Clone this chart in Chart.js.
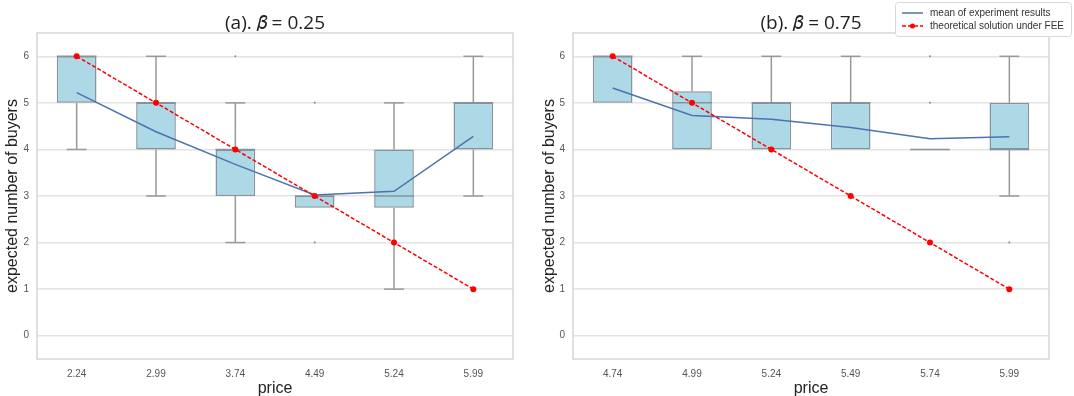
<!DOCTYPE html>
<html>
<head>
<meta charset="utf-8">
<script src="https://cdn.jsdelivr.net/npm/chart.js@4.4.1/dist/chart.umd.min.js"></script>
<style>
  html, body { margin: 0; padding: 0; background: #fff; }
  #wrap { position: relative; width: 1074px; height: 396px; overflow: hidden; }
  .pane { position: absolute; top: 0; width: 537px; height: 396px; }
</style>
</head>
<body>
<div id="wrap">
  <div class="pane" style="left:0"><canvas id="cA" width="537" height="396"></canvas></div>
  <div class="pane" style="left:537px"><canvas id="cB" width="537" height="396"></canvas></div>
</div>
<script>
// ---------- data ----------
const yTicks = [0, 1, 2, 3, 4, 5, 6];

const catsA = ['2.24', '2.99', '3.74', '4.49', '5.24', '5.99'];
const q1A = [5, 4, 3, 2.75, 2.75, 4];
const q3A = [6, 5, 4, 3, 4, 5];
const medA = [6, 5, 4, 3, 3, 5];
const whisLoA = [4, 3, 2, 2.75, 1, 3];
const whisHiA = [6, 6, 5, 3, 5, 6];
const meanA = [5.22, 4.38, 3.68, 3.02, 3.1, 4.28];
const theoryA = [6, 5, 4, 3, 2, 1];
const fliersA = [{x: '3.74', y: 6}, {x: '4.49', y: 5}, {x: '4.49', y: 2}];

const catsB = ['4.74', '4.99', '5.24', '5.49', '5.74', '5.99'];
const q1B = [5, 4, 4, 4, 4, 4];
const q3B = [6, 5.25, 5, 5, 4, 5];
const medB = [6, 5, 5, 5, 4, 4];
const whisLoB = [5, 4, 4, 4, 4, 3];
const whisHiB = [6, 6, 6, 6, 4, 6];
const meanB = [5.32, 4.73, 4.65, 4.47, 4.23, 4.27];
const theoryB = [6, 5, 4, 3, 2, 1];
const fliersB = [{x: '5.74', y: 6}, {x: '5.74', y: 5}, {x: '5.99', y: 2}];

const titleA = '(a). \u{1D6FD} = 0.25';
const titleB = '(b). \u{1D6FD} = 0.75';
const legendLabels = ['mean of experiment results', 'theoretical solution under FEE'];

// ---------- style ----------
const BOX_FILL = '#add8e6';
const BOX_EDGE = '#85939d';
const WHISK = '#999999';
const MEAN_C = '#4c72b0';
const THEO_C = '#ff0000';
const GRID_C = '#e3e3e3';
const FRAME_C = '#d6d6d6';
const AXFONT = "'Liberation Sans', Arial, sans-serif";

const boxExtras = {
  id: 'boxExtras',
  afterDatasetDraw(chart, args, opts) {
    if (args.index !== 0) return;
    const ctx = chart.ctx, x = chart.scales.x, y = chart.scales.y;
    const meta = chart.getDatasetMeta(0);
    ctx.save();
    ctx.lineWidth = 1.5;
    opts.lo.forEach((lo, i) => {
      const bar = meta.data[i];
      const cx = x.getPixelForValue(i);
      const half = bar.width / 2;
      ctx.strokeStyle = WHISK;
      if (lo < opts.q1[i]) {
        ctx.beginPath();
        ctx.moveTo(cx, y.getPixelForValue(opts.q1[i]));
        ctx.lineTo(cx, y.getPixelForValue(lo));
        ctx.stroke();
        ctx.beginPath();
        ctx.moveTo(cx - half / 2, y.getPixelForValue(lo));
        ctx.lineTo(cx + half / 2, y.getPixelForValue(lo));
        ctx.stroke();
      }
      const hi = opts.hi[i];
      if (hi > opts.q3[i]) {
        ctx.beginPath();
        ctx.moveTo(cx, y.getPixelForValue(opts.q3[i]));
        ctx.lineTo(cx, y.getPixelForValue(hi));
        ctx.stroke();
        ctx.beginPath();
        ctx.moveTo(cx - half / 2, y.getPixelForValue(hi));
        ctx.lineTo(cx + half / 2, y.getPixelForValue(hi));
        ctx.stroke();
      }
      ctx.strokeStyle = BOX_EDGE;
      ctx.beginPath();
      ctx.moveTo(cx - half, y.getPixelForValue(opts.med[i]));
      ctx.lineTo(cx + half, y.getPixelForValue(opts.med[i]));
      ctx.stroke();
    });
    ctx.restore();
  },
  afterDraw(chart) {
    const ctx = chart.ctx, a = chart.chartArea;
    ctx.save();
    ctx.strokeStyle = FRAME_C;
    ctx.lineWidth = 1.5;
    ctx.strokeRect(a.left, a.top, a.right - a.left, a.bottom - a.top);
    ctx.restore();
  }
};

const customLegend = {
  id: 'customLegend',
  afterDraw(chart, args, opts) {
    if (!opts.show) return;
    const ctx = chart.ctx;
    const bx = 358, by = 2, bw = 176, bh = 34;
    ctx.save();
    ctx.fillStyle = 'rgba(255,255,255,0.9)';
    ctx.strokeStyle = '#d8d8d8';
    ctx.lineWidth = 1;
    ctx.beginPath();
    ctx.roundRect(bx + 0.5, by + 0.5, bw, bh, 3);
    ctx.fill();
    ctx.stroke();
    ctx.strokeStyle = MEAN_C;
    ctx.lineWidth = 1.5;
    ctx.beginPath();
    ctx.moveTo(365, 13); ctx.lineTo(386, 13);
    ctx.stroke();
    ctx.strokeStyle = THEO_C;
    ctx.setLineDash([4, 2]);
    ctx.beginPath();
    ctx.moveTo(365, 26); ctx.lineTo(386, 26);
    ctx.stroke();
    ctx.setLineDash([]);
    ctx.fillStyle = THEO_C;
    ctx.beginPath();
    ctx.arc(375.5, 26, 2.5, 0, Math.PI * 2);
    ctx.fill();
    ctx.fillStyle = '#333';
    ctx.font = "10px " + AXFONT;
    ctx.textBaseline = 'middle';
    ctx.fillText(opts.labels[0], 393, 13);
    ctx.fillText(opts.labels[1], 393, 26);
    ctx.restore();
  }
};

function makeChart(id, cats, q1, q3, med, lo, hi, mean, theory, fliers, title, yWidth, padRight, showLegend) {
  return new Chart(document.getElementById(id), {
    data: {
      labels: cats,
      datasets: [
        {
          type: 'bar', label: 'box', order: 3,
          data: q1.map((v, i) => [v, q3[i]]),
          backgroundColor: BOX_FILL, borderColor: BOX_EDGE, borderWidth: 1.5,
          borderSkipped: false, barPercentage: 0.5, categoryPercentage: 1
        },
        {
          type: 'line', label: 'fliers', order: 2,
          data: fliers, showLine: false,
          pointRadius: 1, pointBackgroundColor: '#888', pointBorderWidth: 0
        },
        {
          type: 'line', label: legendLabels[0], order: 1,
          data: mean, borderColor: MEAN_C, borderWidth: 1.5,
          pointRadius: 0, tension: 0, fill: false
        },
        {
          type: 'line', label: legendLabels[1], order: 0,
          data: theory, borderColor: THEO_C, borderWidth: 1.5, borderDash: [4, 2],
          pointRadius: 3, pointBackgroundColor: THEO_C, pointBorderWidth: 0,
          tension: 0, fill: false
        }
      ]
    },
    options: {
      responsive: false, animation: false, devicePixelRatio: 1,
      layout: { padding: { left: 0, right: padRight, top: 0, bottom: 0 } },
      plugins: {
        legend: { display: false },
        tooltip: { enabled: false },
        title: {
          display: true, text: title, color: '#222', fullSize: false,
          font: { family: "'Open Sans', 'DejaVu Sans', sans-serif", size: 19, weight: 'normal', lineHeight: 1 },
          padding: { top: 14, bottom: 0 }
        },
        boxExtras: { q1: q1, q3: q3, med: med, lo: lo, hi: hi },
        customLegend: { show: showLegend, labels: legendLabels }
      },
      scales: {
        x: {
          type: 'category', offset: true,
          grid: { display: false },
          border: { display: false },
          ticks: { color: '#555', font: { family: AXFONT, size: 10 }, padding: 1, maxRotation: 0 },
          title: { display: true, text: 'price', color: '#222',
                   font: { family: AXFONT, size: 16, lineHeight: 1 }, padding: { top: 0, bottom: -1 } },
          afterFit(s) { s.height = 37; }
        },
        y: {
          type: 'linear', min: -0.5, max: 6.5,
          afterBuildTicks(s) { s.ticks = yTicks.map(v => ({ value: v })); },
          grid: { color: GRID_C, lineWidth: 1.5, drawTicks: false },
          border: { display: false },
          ticks: { color: '#555', font: { family: AXFONT, size: 10 }, padding: 8 },
          title: { display: true, text: 'expected number of buyers', color: '#222',
                   font: { family: AXFONT, size: 16, lineHeight: 1 }, padding: { top: 5, bottom: 0 } },
          afterFit(s) { s.width = yWidth; }
        }
      }
    },
    plugins: [boxExtras, customLegend]
  });
}

makeChart('cA', catsA, q1A, q3A, medA, whisLoA, whisHiA, meanA, theoryA, fliersA, titleA, 37, 24, false);
makeChart('cB', catsB, q1B, q3B, medB, whisLoB, whisHiB, meanB, theoryB, fliersB, titleB, 36, 25, true);
</script>
</body>
</html>
